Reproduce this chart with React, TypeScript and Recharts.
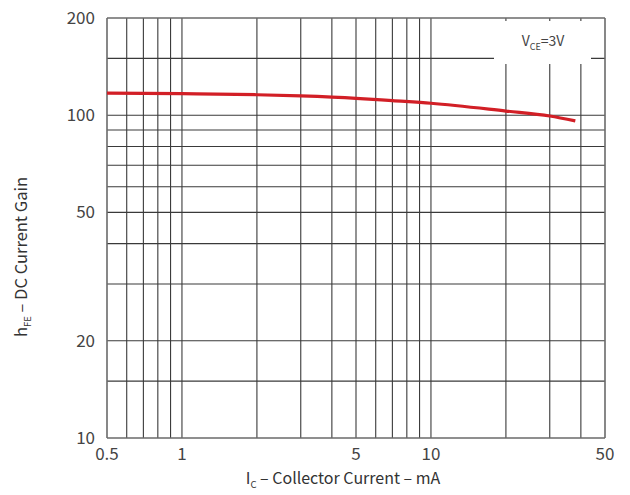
import React from 'react';
import { LineChart, Line, XAxis, YAxis, ReferenceLine } from 'recharts';

const xTicks = [0.5, 1, 5, 10, 50];
const yTicks = [10, 20, 50, 100, 200];
const xGrid = [0.6, 0.7, 0.8, 0.9, 1, 2, 3, 4, 5, 6, 7, 8, 9, 10, 20, 30, 40];
const yGrid = [15, 20, 30, 40, 50, 60, 70, 80, 90, 100, 150];
const current = [0.5, 1, 2, 3, 5, 7, 10, 20, 30, 38];
const gain = [117, 116.6, 115.7, 114.7, 112.8, 110.9, 108.9, 103, 99.4, 96];

const data = current.map((c, i) => ({ ic: c, hfe: gain[i] }));

const FONT = '"Noto Sans CJK SC", "Noto Sans", sans-serif';
const GRID = '#3a3a3a';
const BORDER = '#6a6a6a';

export default function App() {
  return (
    <div style={{ position: 'absolute', left: 0, top: 0, width: 630, height: 495, background: '#fff' }}>
      <LineChart width={630} height={495} data={data} margin={{ top: 18, right: 25, left: 0, bottom: 0 }}>
        <XAxis
          dataKey="ic"
          type="number"
          scale="log"
          domain={[0.5, 50]}
          allowDataOverflow
          ticks={xTicks}
          tickFormatter={(v) => String(v)}
          height={57}
          axisLine={false}
          tickLine={false}
          tick={{ fill: '#444', fontSize: 17, fontFamily: FONT }}
          tickMargin={4}
          interval={0}
        />
        <YAxis
          type="number"
          scale="log"
          domain={[10, 200]}
          allowDataOverflow
          ticks={yTicks}
          width={107}
          axisLine={false}
          tickLine={false}
          tick={{ fill: '#444', fontSize: 17, fontFamily: FONT }}
          tickMargin={6}
          interval={0}
        />
        {xGrid.map((v) => (
          <ReferenceLine key={'x' + v} x={v} stroke={GRID} strokeWidth={1.1} />
        ))}
        {yGrid.map((v) => (
          <ReferenceLine key={'y' + v} y={v} stroke={GRID} strokeWidth={1.1} />
        ))}
        <ReferenceLine x={0.5} stroke={BORDER} strokeWidth={1.6} />
        <ReferenceLine x={50} stroke={BORDER} strokeWidth={1.6} />
        <ReferenceLine y={10} stroke={BORDER} strokeWidth={1.6} />
        <ReferenceLine y={200} stroke={BORDER} strokeWidth={1.6} />
        <Line
          type="monotone"
          dataKey="hfe"
          stroke="#d21f26"
          strokeWidth={3.2}
          dot={false}
          isAnimationActive={false}
        />
      </LineChart>
      <svg
        width={630}
        height={495}
        style={{ position: 'absolute', left: 0, top: 0, pointerEvents: 'none' }}
      >
        <rect x={494} y={21} width={97} height={43} fill="#fff" />
        <text x={543} y={46} textAnchor="middle" fontFamily={FONT} fontSize={14} fill="#444">
          V<tspan fontSize={9} dy={4}>CE</tspan>
          <tspan dy={-4}>=3V</tspan>
        </text>
        <text x={343} y={484} textAnchor="middle" fontFamily={FONT} fontSize={16} fill="#333">
          I<tspan fontSize={9.5} dy={4}>C</tspan>
          <tspan dy={-4}> – Collector Current – mA</tspan>
        </text>
        <text
          x={0}
          y={0}
          transform="translate(27,257) rotate(-90)"
          textAnchor="middle"
          fontFamily={FONT}
          fontSize={16.5}
          fill="#333"
        >
          h<tspan fontSize={9.5} dy={4}>FE</tspan>
          <tspan dy={-4}> – DC Current Gain</tspan>
        </text>
      </svg>
    </div>
  );
}
